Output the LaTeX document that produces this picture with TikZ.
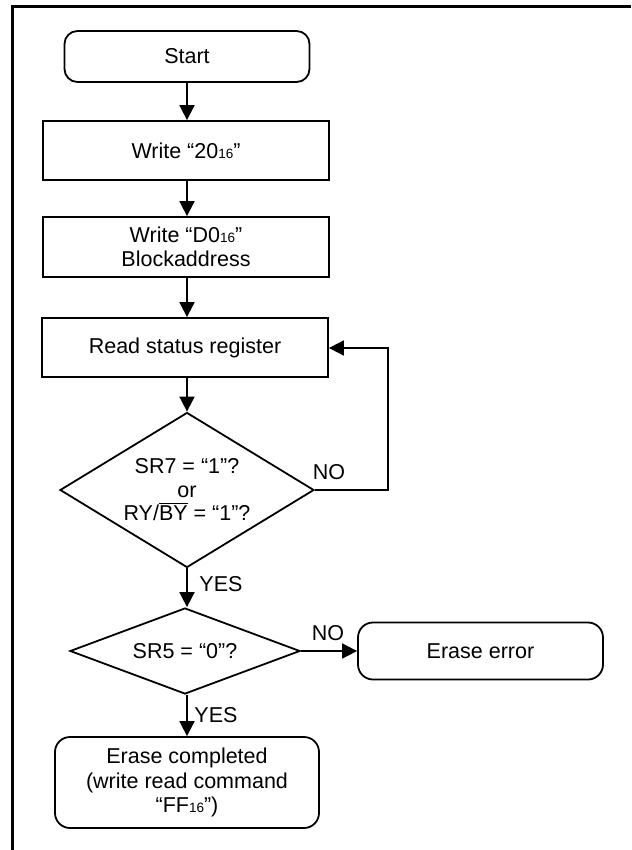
\documentclass[tikz,border=0pt]{standalone}
\usepackage{fontspec}
\setmainfont{Liberation Sans}
\usetikzlibrary{shapes.geometric,arrows.meta}
\newcommand{\sixteen}{{\fontsize{13.5}{13.5}\selectfont 16}}
\newcommand{\ovl}[1]{\setbox0\hbox{#1}\rlap{\raisebox{\dimexpr\ht0+1.8pt\relax}{\rule{\wd0}{1.3pt}}}#1}
\begin{document}
\begin{tikzpicture}[x=1pt,y=-1pt,
  every node/.style={font=\fontsize{21.5}{23.5}\selectfont},
  box/.style={draw,line width=1.8pt,inner sep=0pt,align=center},
  rbox/.style={box,rounded corners=13pt},
  dec/.style={draw,line width=1.8pt,diamond,inner sep=0pt,align=center},
  flow/.style={line width=1.8pt,-{Triangle[length=15pt,width=15pt]}},
  lbl/.style={inner sep=0pt}]
\useasboundingbox (0,0) rectangle (631,850);
\draw[line width=3pt] (12.5,850) -- (12.5,6.5) -- (631,6.5);
\node[rbox,minimum width=245pt,minimum height=51pt] (start) at (187,56.5) {Start};
\node[box,minimum width=286pt,minimum height=59pt] (w1) at (186,150.5) {Write “20\sixteen”};
\node[box,minimum width=286pt,minimum height=60pt] (w2) at (186,247) {Write “D0\sixteen”\\Blockaddress};
\node[box,minimum width=286pt,minimum height=59pt] (rd) at (185,347.5) {Read status register};
\node[dec,aspect=1.64,minimum width=254pt,minimum height=155pt] (d1) at (187,490) {SR7 = “1”?\\or\\RY/\ovl{BY} = “1”?};
\node[dec,aspect=2.67,minimum width=230pt,minimum height=86pt] (d2) at (185,651) {SR5 = “0”?};
\node[rbox,rounded corners=15pt,minimum width=245pt,minimum height=57pt] (err) at (480.5,651) {Erase error};
\node[rbox,rounded corners=15pt,minimum width=264pt,minimum height=91pt,font=\fontsize{21.5}{24.5}\selectfont] (done) at (187,782.5) {Erase completed\\(write read command\\“FF\sixteen”)};
\coordinate (c1) at (388,490);
\coordinate (c2) at (388,348);
\draw[flow] (start.south -| 187,0) -- (w1.north -| 187,0);
\draw[flow] (w1.south -| 187,0) -- (w2.north -| 187,0);
\draw[flow] (w2.south -| 187,0) -- (rd.north -| 187,0);
\draw[flow] (rd.south -| 187,0) -- (d1.north);
\draw[flow] (d1.south) -- (d2.north -| 187,0);
\draw[flow] (d2.east) -- (err.west);
\draw[flow] (d2.south -| 187,0) -- (done.north -| 187,0);
\draw[flow] (d1.east) -- (c1) -- (c2) -- (rd.east |- c2);
\node[lbl] (no1) at (329,472) {NO};
\node[lbl] (yes1) at (221,584) {YES};
\node[lbl] (no2) at (328,633) {NO};
\node[lbl] (yes2) at (216,715) {YES};
\end{tikzpicture}
\end{document}
